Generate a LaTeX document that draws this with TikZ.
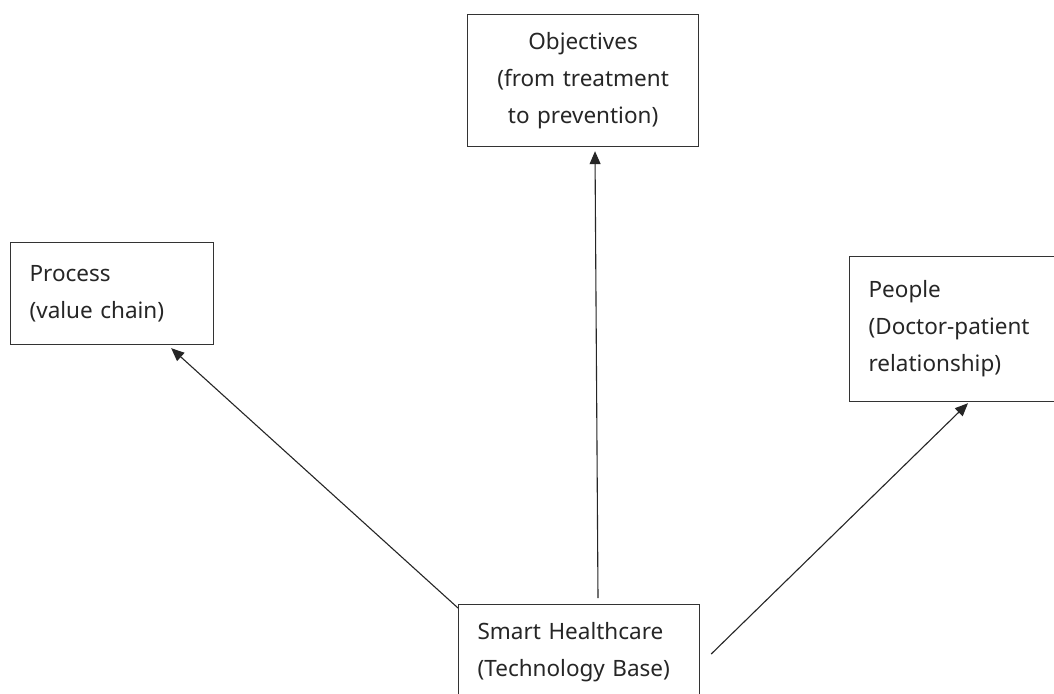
\documentclass[tikz,border=0pt]{standalone}
\usepackage{fontspec}
\setmainfont{Noto Sans}
\usetikzlibrary{arrows.meta}
\tikzset{
  box/.style={draw=black!80, line width=1.2pt, rectangle, anchor=north west, text=black!85,
    inner xsep=19pt, inner ysep=0pt, font=\fontsize{22.5}{37}\selectfont},
  conn/.style={draw=black!85, line width=1.1pt, -{Triangle[length=13pt,width=11pt]}}
}
\begin{document}
\begin{tikzpicture}[x=1pt,y=-1pt]
\useasboundingbox[fill=white] (0,0) rectangle (1054,693);
\node[box, minimum width=231pt, minimum height=132pt, text width=193pt, align=center] (obj) at (467,14)
  {Objectives\\(from treatment\\to prevention)};
\node[box, minimum width=203pt, minimum height=102pt, text width=165pt, align=left] (proc) at (10,242)
  {Process\\(value chain)};
\node[box, minimum width=221pt, minimum height=145pt, text width=183pt, align=left] (people) at (849,256)
  {People\\(Doctor-patient\\relationship)};
\node[box, minimum width=241pt, minimum height=96pt, text width=203pt, align=left] (smart) at (458,604)
  {Smart Healthcare\\(Technology Base)};
\draw[conn] ([xshift=140pt,yshift=6pt]smart.north west) -- ([xshift=128pt,yshift=-4pt]obj.south west);
\draw[conn] ([yshift=-4pt]smart.north west) -- ([xshift=-43pt,yshift=-3pt]proc.south east);
\draw[conn] ([xshift=11pt,yshift=-50pt]smart.north east) -- ([xshift=119pt,yshift=-1pt]people.south west);
\end{tikzpicture}
\end{document}
